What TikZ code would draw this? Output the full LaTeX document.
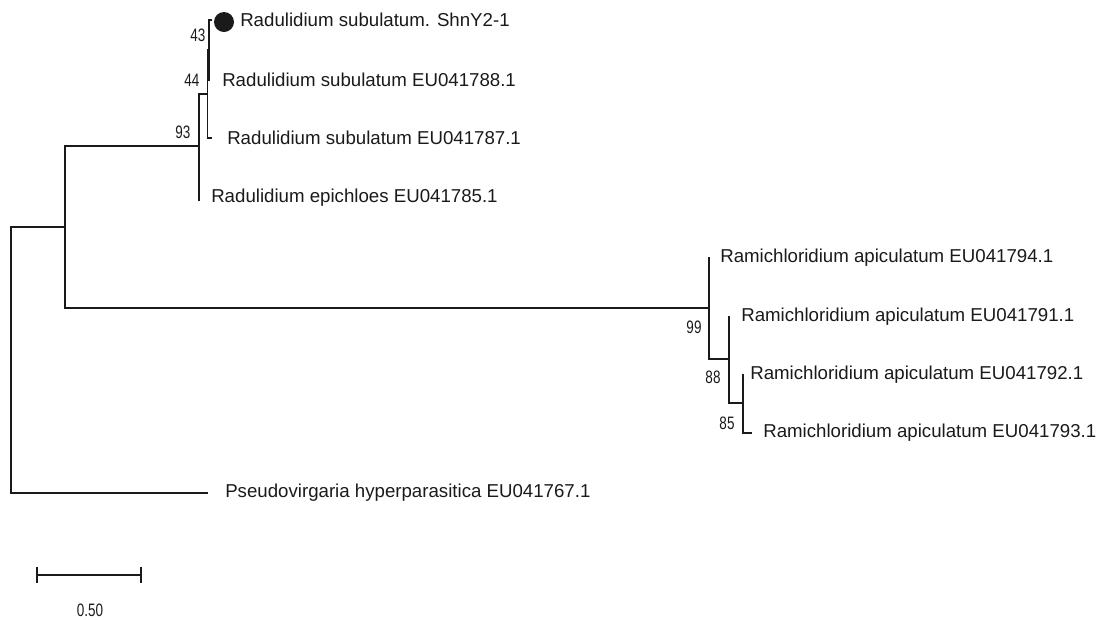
\documentclass[tikz,border=0pt]{standalone}
\usepackage{fontspec}
\setmainfont{Liberation Sans}
\newfontfamily\narrowfont[FakeStretch=0.75]{Liberation Sans}
\usepackage{xcolor}
\definecolor{treeblack}{HTML}{1A1A1A}

\tikzset{
  branch/.style={treeblack, line width=0.9pt},
  taxon/.style={anchor=west, inner sep=0, text=treeblack, font=\fontsize{14}{16}\selectfont},
  support/.style={inner sep=0, text=treeblack, font=\narrowfont\fontsize{13.5}{15}\selectfont}
}

\begin{document}
\begin{tikzpicture}[x=0.75pt, y=-0.75pt]
    \useasboundingbox (0,0) rectangle (1104,619);

    % internal nodes
    \coordinate (root) at (11,360);
    \coordinate (n1) at (65,227);
    \coordinate (n93) at (199,146);
    \coordinate (n44) at (207.5,94);
    \coordinate (n43) at (209,50);
    \coordinate (n99) at (709,308);
    \coordinate (n88) at (729,359);
    \coordinate (n85) at (743,403);

    % tips
    \coordinate (shn) at (212,20);
    \coordinate (t788) at (210,80);
    \coordinate (t787) at (212,138);
    \coordinate (t785) at (200,200);
    \coordinate (t794) at (710,258);
    \coordinate (t791) at (730,317);
    \coordinate (t792) at (744,375);
    \coordinate (t793) at (752,433);
    \coordinate (t767) at (208,493);

    % branches
    \draw[branch] (root) |- (n1);
    \draw[branch] (root) |- (t767);
    \draw[branch] (n1) |- (n93);
    \draw[branch] (n1) |- (n99);
    \draw[branch] (n93) |- (n44);
    \draw[branch] (n93) |- (t785);
    \draw[branch] (n44) |- (n43);
    \draw[branch] (n44) |- (t787);
    \draw[branch] (n43) |- (shn);
    \draw[branch] (n43) |- (t788);
    \draw[branch] (n99) |- (t794);
    \draw[branch] (n99) |- (n88);
    \draw[branch] (n88) |- (t791);
    \draw[branch] (n88) |- (n85);
    \draw[branch] (n85) |- (t792);
    \draw[branch] (n85) |- (t793);

    % marker for the new isolate
    \fill[treeblack] (224,22) circle (10);

    % taxon names
    \node[taxon] (lshn) at (240,20) {Radulidium subulatum. ShnY2-1};
    \node[taxon] (l788) at (222,80) {Radulidium subulatum EU041788.1};
    \node[taxon] (l787) at (227,138) {Radulidium subulatum EU041787.1};
    \node[taxon] (l785) at (211,198) {Radulidium epichloes EU041785.1};
    \node[taxon] (l794) at (720,258) {Ramichloridium apiculatum EU041794.1};
    \node[taxon] (l791) at (741,317) {Ramichloridium apiculatum EU041791.1};
    \node[taxon] (l792) at (750,375) {Ramichloridium apiculatum EU041792.1};
    \node[taxon] (l793) at (763,433) {Ramichloridium apiculatum EU041793.1};
    \node[taxon] (l767) at (225,493) {Pseudovirgaria hyperparasitica EU041767.1};

    % bootstrap values
    \node[support] (b43) at (198,35) {43};
    \node[support] (b44) at (192,80) {44};
    \node[support] (b93) at (183,132) {93};
    \node[support] (b99) at (694,327) {99};
    \node[support] (b88) at (713,377) {88};
    \node[support] (b85) at (727,423) {85};

    % scale bar
    \coordinate (sbl) at (37,575);
    \coordinate (sbr) at (141,575);
    \draw[branch] (sbl) -- (sbr);
    \draw[branch] ([yshift=-6]sbl) -- ([yshift=6]sbl);
    \draw[branch] ([yshift=-6]sbr) -- ([yshift=6]sbr);
    \node[support] (sblab) at (90,610) {0.50};
\end{tikzpicture}
\end{document}
